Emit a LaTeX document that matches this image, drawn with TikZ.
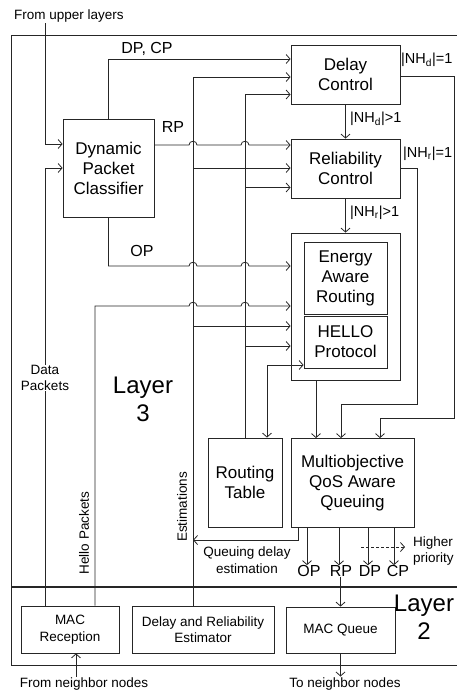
\documentclass[tikz,border=0pt]{standalone}
\usepackage{fontspec}
\setmainfont{Liberation Sans}
\usetikzlibrary{arrows.meta}
\begin{document}
\begin{tikzpicture}[x=1pt,y=-1pt,
  ln/.style={line width=0.8pt, draw=black!85},
  box/.style={ln, align=center, inner sep=0pt, font=\fontsize{17}{20}\selectfont},
  sbox/.style={ln, align=center, inner sep=0pt, font=\fontsize{13.5}{16.5}\selectfont},
  arr/.style={ln, -{Straight Barb[length=4pt,width=9pt]}},
  barr/.style={ln, {Straight Barb[length=4pt,width=9pt]}-{Straight Barb[length=4pt,width=9pt]}},
  small/.style={font=\fontsize{13.5}{16.5}\selectfont, align=center, inner sep=1pt},
  lab/.style={font=\fontsize{14.5}{18}\selectfont, inner sep=0pt},
  big/.style={font=\fontsize{16}{20}\selectfont, inner sep=0pt},
  layer/.style={font=\fontsize{24}{28}\selectfont, align=center, inner sep=0pt},
]
\useasboundingbox (0,0) rectangle (456,691);

% frame and layer divider
\draw[ln] (11,35) rectangle (490,665);
\draw[line width=1.8pt, black!85] (11,587) -- (490,587);

% nodes
\node[small] (upper) at (69,16) {From upper layers};
\node[box, minimum width=91pt, minimum height=98pt] (dpc) at (108.5,168) {Dynamic\\Packet\\Classifier};
\node[box, minimum width=109pt, minimum height=59pt] (dc) at (345.5,74.5) {Delay\\Control};
\node[box, minimum width=109pt, minimum height=59pt] (rc) at (345.5,168.5) {Reliability\\Control};
\node[ln, draw, minimum width=109pt, minimum height=147pt, inner sep=0pt] (rout) at (345.5,306.5) {};
\node[box, minimum width=83pt, minimum height=72pt] (ear) at (345.5,278) {Energy\\Aware\\Routing};
\node[box, minimum width=83pt, minimum height=52pt] (hello) at (345.5,342) {HELLO\\Protocol};
\node[box, minimum width=74pt, minimum height=89pt] (rt) at (245,482.5) {Routing\\Table};
\node[box, minimum width=123pt, minimum height=89pt] (moq) at (352.5,483) {Multiobjective\\QoS Aware\\Queuing};
\node[sbox, minimum width=98pt, minimum height=47pt] (macr) at (70,629.5) {MAC\\Reception};
\node[sbox, minimum width=142pt, minimum height=47pt] (dre) at (203,629.5) {Delay and Reliability\\Estimator};
\node[sbox, minimum width=109pt, minimum height=46pt] (macq) at (340.5,630) {MAC Queue};

\node[layer] (l3) at (143,399) {Layer\\3};
\node[layer] (l2) at (424,617) {Layer\\2};

\node[small] (fromnb) at (84,684) {From neighbor nodes};
\node[small] (tonb) at (345,684) {To neighbor nodes};

% inputs to classifier
\draw[arr] (upper.south -| 45,0) |- (dpc.west |- 0,144);
\draw[arr] (macr.north -| 45,0) |- (dpc.west |- 0,168);
\node[small, fill=white, inner sep=0.5pt] (dpk) at (45,378) {Data\\Packets};

% classifier outputs
\draw[arr] (dpc.north) |- (dc.west |- 0,59);
\node[big] (dpcp) at (147,49) {DP, CP};
\draw[arr] (dpc.east |- 0,145) -- (189,145) .. controls (189,140) and (197,140) .. (197,145)
  -- (241,145) .. controls (241,140) and (249,140) .. (249,145) -- (rc.west |- 0,145);
\node[big] (rp1) at (173,127) {RP};
\draw[arr] (dpc.south) |- (189,266) .. controls (189,261) and (197,261) .. (197,266)
  -- (241,266) .. controls (241,261) and (249,261) .. (249,266) -- (rout.west |- 0,266);
\node[big] (op1) at (142,251) {OP};

% hello packets
\draw[arr] (macr.north -| 95,0) |- (189,306) .. controls (189,301) and (197,301) .. (197,306)
  -- (241,306) .. controls (241,301) and (249,301) .. (249,306) -- (rout.west |- 0,306);
\node[small, rotate=90] (hpk) at (84,533) {Hello Packets};

% estimations bus x=193
\draw[arr] (dre.north -| 193,0) |- (dc.west |- 0,77);
\draw[arr] (dre.north -| 193,0) |- (rc.west |- 0,168);
\draw[arr] (dre.north -| 193,0) |- (rout.west |- 0,326);
\node[small, rotate=90] (estl) at (182,507) {Estimations};

% routing table bus x=245
\draw[arr] (rt.north) |- (dc.west |- 0,94.5);
\draw[arr] (rt.north) |- (rc.west |- 0,187.5);
\draw[arr] (rt.north) |- (rout.west |- 0,346);
\draw[barr] (hello.west |- 0,365) -| (rt.north -| 267,0);

% control chain
\draw[arr] (dc.south) -- (rc.north);
\node[lab, anchor=west] (nhd1) at (350,119) {|NH\textsubscript{d}|>1};
\draw[arr] (rc.south) -- (rout.north);
\node[lab, anchor=west] (nhr1) at (350,213) {|NH\textsubscript{r}|>1};

\draw[arr] (dc.east |- 0,76) -- (454,76) |- (380,418) -- (moq.north -| 380,0);
\node[lab, anchor=west] (nhd2) at (401,60) {|NH\textsubscript{d}|=1};
\draw[arr] (rc.east |- 0,168) -- (417,168) |- (341,404) -- (moq.north -| 341,0);
\node[lab, anchor=west] (nhr2) at (403,154) {|NH\textsubscript{r}|=1};
\draw[arr] (rout.south -| 316,0) -- (moq.north -| 316,0);

% queuing delay estimation
\coordinate (qe) at (193,540);
\draw[arr] (moq.south -| 298,0) |- (qe);
\node[small] (qdl) at (247,560) {Queuing delay\\estimation};

% queue outputs
\node[big] (op) at (309,571) {OP};
\node[big] (rp) at (341,571) {RP};
\node[big] (dp) at (370,571) {DP};
\node[big] (cp) at (398,571) {CP};
\draw[arr] (moq.south -| 307,0) -- (op.north -| 307,0);
\draw[arr] (moq.south -| 339,0) -- (rp.north -| 339,0);
\draw[arr] (moq.south -| 368,0) -- (dp.north -| 368,0);
\draw[arr] (moq.south -| 394,0) -- (cp.north -| 394,0);

\node[small, anchor=west, align=left, inner sep=0pt] (hp) at (413,551) {Higher\\priority};
\coordinate (hs) at (361,547);
\coordinate (he) at (405,547);
\draw[arr, dash pattern=on 3pt off 2pt] (hs) -- (he);

% layer 2 connections
\draw[arr] (rp.south -| macq.north) -- (macq.north);
\draw[arr] (macq.south) -- (tonb.north -| macq.south);
\draw[arr] (fromnb.north -| 76,0) -- (macr.south -| 76,0);
\end{tikzpicture}
\end{document}
